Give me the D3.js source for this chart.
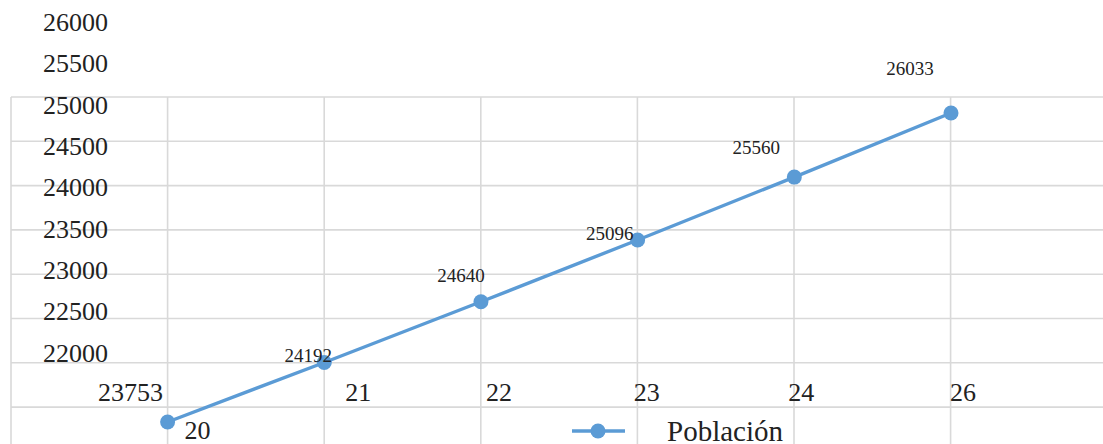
<!DOCTYPE html>
<html>
<head>
<meta charset="utf-8">
<script src="https://cdn.jsdelivr.net/npm/d3@7"></script>
<style>
  body { margin: 0; background: #fff; }
  svg { display: block; }
</style>
</head>
<body>
<svg width="1103" height="444"></svg>
<script>
// Data
var years = ["20", "21", "22", "23", "24", "26"];
var population = [23753, 24192, 24640, 25096, 25560, 26033];
var yTicks = [22000, 22500, 23000, 23500, 24000, 24500, 25000, 25500, 26000];
var seriesName = "Población";

var svg = d3.select("svg"),
	width = +svg.attr("width"),
	height = +svg.attr("height");

var blue = "#5b9bd5",
	gridColor = "#d9d9d9",
	ink = "#222",
	serif = "Liberation Serif";

// Scales
var x = d3.scalePoint().domain(years).range([167.6, 951]);
var y = d3.scaleLinear().domain([23753, 26033]).range([422, 113]);
var yLabel = d3.scaleLinear().domain([22000, 26000]).range([353, 22]);
var gridX = d3.scaleLinear().domain([0, 1]).range([11, 167.6]);
var gridY = d3.scaleLinear().domain([0, 1]).range([97, 141.3]);

// Grid
var grid = svg.append("g").attr("class", "grid")
	.attr("stroke", gridColor)
	.attr("stroke-width", 1.6);

grid.selectAll(".h")
	.data(d3.range(0, 9))
	.enter().append("line")
	.attr("x1", gridX(0)).attr("x2", width)
	.attr("y1", d => gridY(d)).attr("y2", d => gridY(d));

grid.selectAll(".v")
	.data(d3.range(0, 8))
	.enter().append("line")
	.attr("x1", d => gridX(d)).attr("x2", d => gridX(d))
	.attr("y1", gridY(0)).attr("y2", height);

// Y axis labels
var yAxis = svg.append("g")
	.attr("transform", "translate(108,0)")
	.call(d3.axisLeft(yLabel).tickValues(yTicks).tickSize(0).tickPadding(0).tickFormat(d3.format("d")))
	.attr("font-family", serif)
	.attr("font-size", 26);
yAxis.select(".domain").remove();
yAxis.selectAll("text").attr("fill", ink);

// X labels (as they fall in the picture)
var xNudge = [17, 21, 5, -4, -6, -1];
svg.append("g").selectAll("text")
	.data(years)
	.enter().append("text")
	.attr("x", (d, i) => x(d) + xNudge[i])
	.attr("y", (d, i) => i === 0 ? 430 : 392)
	.attr("dy", "0.35em")
	.attr("font-family", serif)
	.attr("font-size", 26)
	.attr("fill", ink)
	.text(d => d);

// Line
var line = d3.line()
	.x((d, i) => x(years[i]))
	.y(d => y(d));

svg.append("path")
	.datum(population)
	.attr("fill", "none")
	.attr("stroke", blue)
	.attr("stroke-width", 3.4)
	.attr("d", line);

svg.append("g").selectAll("circle")
	.data(population)
	.enter().append("circle")
	.attr("cx", (d, i) => x(years[i]))
	.attr("cy", d => y(d))
	.attr("r", 7.5)
	.attr("fill", blue);

// Data labels
var labelDx = [-37, -16, -20, -28, -38, -41];
var labelDy = [-30, -7, -26, -7, -30, -45];
svg.append("g").selectAll("text")
	.data(population)
	.enter().append("text")
	.attr("x", (d, i) => x(years[i]) + labelDx[i])
	.attr("y", (d, i) => y(d) + labelDy[i])
	.attr("dy", "0.35em")
	.attr("text-anchor", "middle")
	.attr("font-family", serif)
	.attr("font-size", (d, i) => i === 0 ? 26 : 19)
	.attr("fill", ink)
	.text(d => d);

// Legend
var legend = svg.append("g").attr("transform", "translate(572,431)");
legend.append("line")
	.attr("x1", 0).attr("x2", 53)
	.attr("stroke", blue).attr("stroke-width", 3.4);
legend.append("circle")
	.attr("cx", 26).attr("r", 7.5).attr("fill", blue);
legend.append("text")
	.attr("x", 95).attr("dy", "0.35em")
	.attr("font-family", serif)
	.attr("font-size", 29)
	.attr("fill", ink)
	.text(seriesName);
</script>
</body>
</html>
